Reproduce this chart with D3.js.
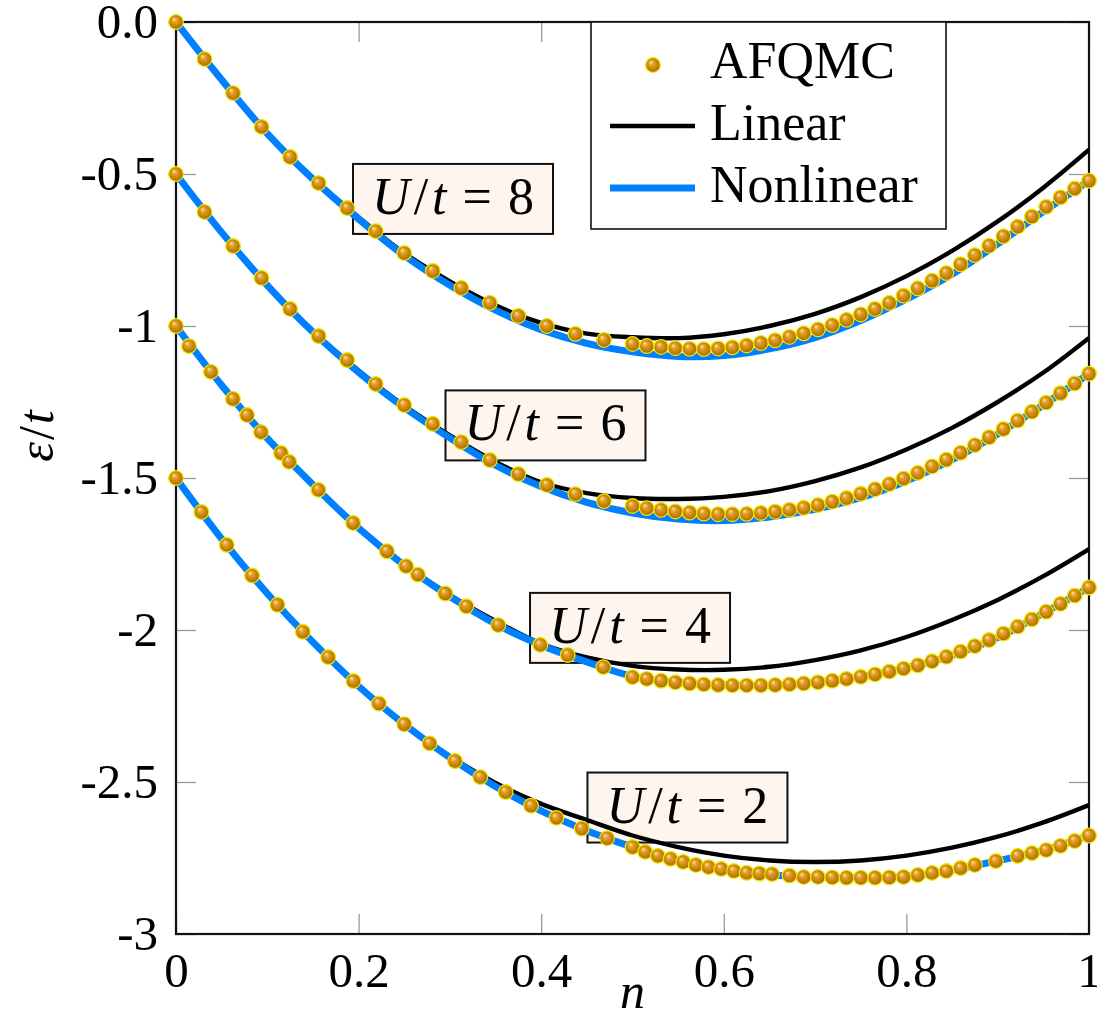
<!DOCTYPE html>
<html><head><meta charset="utf-8">
<script src="https://cdn.jsdelivr.net/npm/d3@7"></script>
<style>body{margin:0;background:#fff}svg{display:block}</style>
</head><body>
<svg id="c" width="1097" height="1024"></svg>
<script>
// ---------- data ----------
const xTicks = [0, 0.2, 0.4, 0.6, 0.8, 1];
const xTickLabels = ["0", "0.2", "0.4", "0.6", "0.8", "1"];
const yTicks = [0, -0.5, -1, -1.5, -2, -2.5, -3];
const yTickLabels = ["0.0", "-0.5", "-1", "-1.5", "-2", "-2.5", "-3"];

const seriesNames = ["AFQMC", "Linear", "Nonlinear"];
const labelTexts = ["8", "6", "4", "2"];
const labelN = [0.3034, 0.4047, 0.4973, 0.5602];
const labelE = [-0.582, -1.327, -1.993, -2.584];

// fit curves sampled on a common grid of densities
const nGrid = [0,0.05,0.1,0.15,0.2,0.25,0.3,0.35,0.4,0.45,0.5,0.55,0.6,0.65,0.7,0.75,0.8,0.85,0.9,0.95,1];
const linear8 = [0,-0.189,-0.365,-0.513,-0.642,-0.76,-0.853,-0.932,-0.99,-1.025,-1.037,-1.04,-1.027,-1.0,-0.96,-0.905,-0.836,-0.753,-0.656,-0.545,-0.42];
const nonlin8 = [0,-0.19,-0.367,-0.517,-0.648,-0.768,-0.866,-0.948,-1.012,-1.057,-1.085,-1.1,-1.097,-1.075,-1.038,-0.982,-0.912,-0.83,-0.73,-0.624,-0.522];
const linear6 = [-0.5,-0.69,-0.864,-1.017,-1.146,-1.262,-1.36,-1.447,-1.514,-1.55,-1.566,-1.569,-1.562,-1.543,-1.51,-1.465,-1.406,-1.335,-1.25,-1.153,-1.039];
const nonlin6 = [-0.5,-0.692,-0.866,-1.02,-1.152,-1.268,-1.368,-1.458,-1.528,-1.58,-1.615,-1.635,-1.64,-1.628,-1.603,-1.565,-1.51,-1.44,-1.355,-1.26,-1.157];
const linear4 = [-1,-1.195,-1.37,-1.522,-1.663,-1.783,-1.885,-1.97,-2.045,-2.09,-2.118,-2.13,-2.131,-2.121,-2.099,-2.067,-2.023,-1.967,-1.901,-1.823,-1.734];
const nonlin4 = [-1,-1.195,-1.37,-1.522,-1.665,-1.787,-1.89,-1.98,-2.05,-2.105,-2.152,-2.173,-2.181,-2.182,-2.173,-2.154,-2.125,-2.084,-2.025,-1.945,-1.86];
const linear2 = [-1.5,-1.7,-1.88,-2.04,-2.185,-2.308,-2.415,-2.503,-2.572,-2.625,-2.676,-2.714,-2.742,-2.758,-2.763,-2.758,-2.742,-2.716,-2.68,-2.633,-2.576];
const nonlin2 = [-1.5,-1.7,-1.88,-2.04,-2.185,-2.31,-2.42,-2.515,-2.595,-2.66,-2.714,-2.758,-2.788,-2.805,-2.813,-2.815,-2.811,-2.79,-2.759,-2.725,-2.676];

// AFQMC points
const nPts86 = [0,0.03125,0.0625,0.09375,0.125,0.15625,0.1875,0.21875,0.25,0.28125,0.3125,0.34375,0.375,0.40625,0.4375,0.46875,0.5,
  0.515625,0.53125,0.546875,0.5625,0.578125,0.59375,0.609375,0.625,0.640625,0.65625,0.671875,0.6875,0.703125,0.71875,0.734375,0.75,
  0.765625,0.78125,0.796875,0.8125,0.828125,0.84375,0.859375,0.875,0.890625,0.90625,0.921875,0.9375,0.953125,0.96875,0.984375,1];
const afqmc8 = [0,-0.122,-0.234,-0.345,-0.444,-0.53,-0.612,-0.688,-0.76,-0.819,-0.875,-0.924,-0.967,-1.0,-1.026,-1.046,-1.059,
  -1.066,-1.069,-1.073,-1.075,-1.076,-1.074,-1.07,-1.064,-1.056,-1.047,-1.036,-1.024,-1.011,-0.997,-0.98,-0.962,
  -0.944,-0.924,-0.9,-0.876,-0.851,-0.826,-0.797,-0.767,-0.736,-0.705,-0.673,-0.64,-0.608,-0.577,-0.548,-0.522];
const afqmc6 = [-0.5,-0.625,-0.737,-0.842,-0.944,-1.033,-1.112,-1.191,-1.26,-1.322,-1.382,-1.441,-1.487,-1.523,-1.553,-1.576,-1.592,
  -1.599,-1.605,-1.61,-1.614,-1.617,-1.619,-1.619,-1.618,-1.615,-1.611,-1.605,-1.598,-1.589,-1.578,-1.566,-1.552,
  -1.537,-1.52,-1.502,-1.483,-1.462,-1.44,-1.417,-1.392,-1.366,-1.339,-1.311,-1.282,-1.252,-1.221,-1.189,-1.157];
const nPts4 = [0,0.0142,0.0383,0.0624,0.0778,0.0931,0.115,0.124,0.156,0.194,0.231,0.252,0.265,0.295,0.318,0.353,0.399,0.429,0.468,
  0.5,0.5156,0.5313,0.5469,0.5625,0.5781,0.5938,0.6094,0.625,0.6406,0.6563,0.6719,0.6875,0.7031,0.7188,0.7344,0.75,
  0.7656,0.7813,0.7969,0.8125,0.8281,0.8438,0.8594,0.875,0.8906,0.9063,0.9219,0.9375,0.9531,0.9688,0.9844,1];
const afqmc4 = [-1,-1.066,-1.151,-1.24,-1.293,-1.349,-1.418,-1.447,-1.539,-1.648,-1.741,-1.79,-1.818,-1.88,-1.922,-1.984,-2.049,-2.082,-2.122,
  -2.155,-2.161,-2.167,-2.172,-2.176,-2.179,-2.181,-2.182,-2.182,-2.182,-2.181,-2.179,-2.176,-2.172,-2.167,-2.161,-2.154,
  -2.146,-2.137,-2.127,-2.116,-2.103,-2.088,-2.071,-2.053,-2.033,-2.012,-1.989,-1.965,-1.94,-1.914,-1.887,-1.86];
const nPts2 = [0,0.0278,0.0556,0.0833,0.1111,0.1389,0.1667,0.1944,0.2222,0.25,0.2778,0.3056,0.3333,0.3611,0.3889,0.4167,0.4444,0.4722,0.5,
  0.5139,0.5278,0.5417,0.5556,0.5694,0.5833,0.5972,0.6111,0.625,0.6389,0.6528,
  0.6719,0.6875,0.7031,0.7188,0.7344,0.75,0.7656,0.7813,0.7969,0.8125,0.8281,0.8438,0.8594,0.875,
  0.898,0.9219,0.9375,0.9531,0.9688,0.9844,1];
const afqmc2 = [-1.5,-1.612,-1.72,-1.821,-1.917,-2.006,-2.089,-2.168,-2.242,-2.31,-2.373,-2.431,-2.484,-2.533,-2.578,-2.618,-2.653,-2.685,-2.714,
  -2.73,-2.743,-2.753,-2.763,-2.773,-2.78,-2.786,-2.793,-2.799,-2.801,-2.803,
  -2.808,-2.8125,-2.8125,-2.814,-2.815,-2.815,-2.815,-2.814,-2.8125,-2.806,-2.799,-2.793,-2.783,-2.773,
  -2.76,-2.743,-2.734,-2.724,-2.71,-2.694,-2.676];

// ---------- chart ----------
const FONT = "'Liberation Serif','DejaVu Serif',serif";
const svg = d3.select("#c");
const x = d3.scaleLinear().domain([0, 1]).range([176, 1089]);
const y = d3.scaleLinear().domain([-3, 0]).range([934, 22]);
const R = 7.3;

const defs = svg.append("defs");
const g = defs.append("radialGradient").attr("id", "ball")
  .attr("cx", 0.5).attr("cy", 0.5).attr("r", 0.55).attr("fx", 0.35).attr("fy", 0.3);
g.append("stop").attr("offset", "0%").attr("stop-color", "#ffe7a6");
g.append("stop").attr("offset", "30%").attr("stop-color", "#e2a128");
g.append("stop").attr("offset", "75%").attr("stop-color", "#bd7a06");
g.append("stop").attr("offset", "100%").attr("stop-color", "#7f5200");
defs.append("clipPath").attr("id", "plotclip").append("rect")
  .attr("x", x(0)).attr("y", y(0)).attr("width", x(1) - x(0)).attr("height", y(-3) - y(0));

// axes (ticks inward, gray)
function styleAxis(sel) {
  sel.select(".domain").remove();
  sel.selectAll(".tick line").attr("stroke", "#9a9a9a").attr("stroke-width", 1.3);
  sel.selectAll(".tick text").attr("font-family", FONT).attr("font-size", 49).attr("fill", "#000");
}
svg.append("g").attr("transform", `translate(0,${y(-3)})`)
  .call(d3.axisBottom(x).tickValues(xTicks).tickFormat((d, i) => xTickLabels[i]).tickSizeInner(-20).tickSizeOuter(0).tickPadding(18))
  .call(styleAxis);
svg.append("g").attr("transform", `translate(0,${y(0)})`)
  .call(d3.axisTop(x).tickValues(xTicks).tickFormat("").tickSizeInner(-20).tickSizeOuter(0))
  .call(styleAxis);
svg.append("g").attr("transform", `translate(${x(0)},0)`)
  .call(d3.axisLeft(y).tickValues(yTicks).tickFormat((d, i) => yTickLabels[i]).tickSizeInner(-20).tickSizeOuter(0).tickPadding(18))
  .call(styleAxis);
svg.append("g").attr("transform", `translate(${x(1)},0)`)
  .call(d3.axisRight(y).tickValues(yTicks).tickFormat("").tickSizeInner(-20).tickSizeOuter(0))
  .call(styleAxis);

// frame
svg.append("rect").attr("x", x(0)).attr("y", y(0)).attr("width", x(1) - x(0)).attr("height", y(-3) - y(0))
  .attr("fill", "none").attr("stroke", "#111").attr("stroke-width", 2.2);

// axis titles
svg.append("text").attr("x", x(0.5)).attr("y", 1008).attr("text-anchor", "middle")
  .attr("font-family", FONT).attr("font-size", 50).attr("font-style", "italic").text("n");
const yl = svg.append("text").attr("transform", "translate(53,436) rotate(-90)").attr("text-anchor", "middle")
  .attr("font-family", FONT).attr("font-size", 50);
yl.append("tspan").attr("font-style", "italic").text("ε");
yl.append("tspan").attr("dx", 2).text("/");
yl.append("tspan").attr("dx", 2).attr("font-style", "italic").text("t");

// U/t label boxes (under the curves)
const boxW = 200, boxH = 70;
labelTexts.forEach((lt, i) => {
  const cx = x(labelN[i]), cy = y(labelE[i]);
  svg.append("rect").attr("x", cx - boxW / 2).attr("y", cy - boxH / 2).attr("width", boxW).attr("height", boxH)
    .attr("fill", "#fdf5ee").attr("stroke", "#111").attr("stroke-width", 2);
  const t = svg.append("text").attr("x", cx).attr("y", cy + 15).attr("text-anchor", "middle")
    .attr("font-family", FONT).attr("font-size", 52);
  t.append("tspan").attr("font-style", "italic").text("U");
  t.append("tspan").attr("dx", 4).text("/");
  t.append("tspan").attr("dx", 4).attr("font-style", "italic").text("t");
  t.append("tspan").attr("dx", 16).text("=");
  t.append("tspan").attr("dx", 16).text(lt);
});

// curves
const line = d3.line().x(d => x(d[0])).y(d => y(d[1])).curve(d3.curveCatmullRom.alpha(0.5));
const plot = svg.append("g").attr("clip-path", "url(#plotclip)");
[linear8, linear6, linear4, linear2].forEach(arr => {
  plot.append("path").attr("d", line(nGrid.map((n, i) => [n, arr[i]])))
    .attr("fill", "none").attr("stroke", "#000").attr("stroke-width", 4.4);
});
[nonlin8, nonlin6, nonlin4, nonlin2].forEach(arr => {
  plot.append("path").attr("d", line(nGrid.map((n, i) => [n, arr[i]])))
    .attr("fill", "none").attr("stroke", "#0080ff").attr("stroke-width", 7);
});

// AFQMC markers
const pts = [[nPts86, afqmc8], [nPts86, afqmc6], [nPts4, afqmc4], [nPts2, afqmc2]];
pts.forEach(([ns, es]) => {
  svg.append("g").selectAll("circle").data(ns.map((n, i) => [n, es[i]])).join("circle")
    .attr("cx", d => x(d[0])).attr("cy", d => y(d[1])).attr("r", R)
    .attr("fill", "url(#ball)").attr("stroke", "#f0e400").attr("stroke-width", 1.3);
});

// legend
const lg = svg.append("g");
lg.append("rect").attr("x", 591).attr("y", y(0)).attr("width", 355).attr("height", 207)
  .attr("fill", "#fff").attr("stroke", "#111").attr("stroke-width", 1.6);
lg.append("circle").attr("cx", 653).attr("cy", 65).attr("r", R)
  .attr("fill", "url(#ball)").attr("stroke", "#f0e400").attr("stroke-width", 1.3);
lg.append("line").attr("x1", 610).attr("x2", 695).attr("y1", 126).attr("y2", 126)
  .attr("stroke", "#000").attr("stroke-width", 4.4);
lg.append("line").attr("x1", 610).attr("x2", 695).attr("y1", 188).attr("y2", 188)
  .attr("stroke", "#0080ff").attr("stroke-width", 7);
[78, 140, 202].forEach((by, i) => {
  lg.append("text").attr("x", 710).attr("y", by).attr("font-family", FONT).attr("font-size", 52)
    .text(seriesNames[i]);
});
</script>
</body></html>
